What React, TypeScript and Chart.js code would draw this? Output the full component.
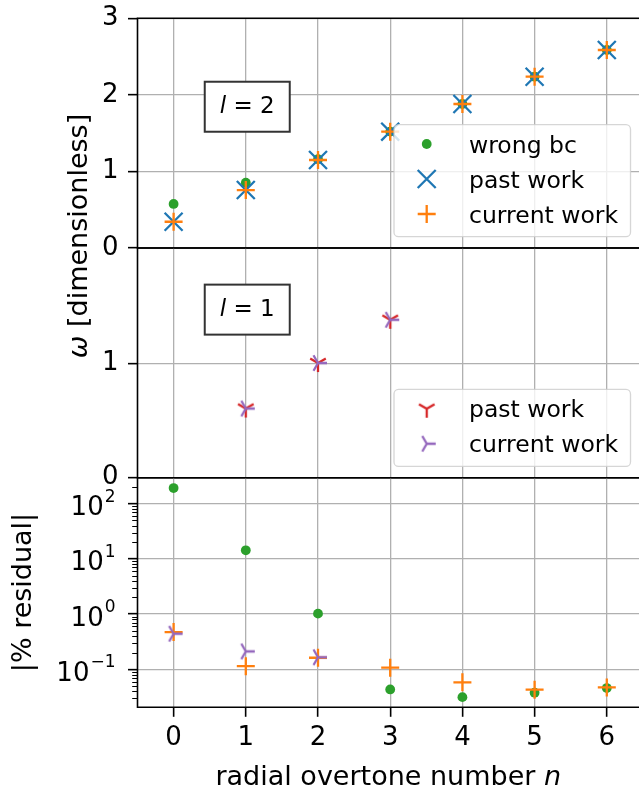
import React, { useEffect, useRef } from 'react';
import { Chart, registerables } from 'chart.js';

Chart.register(...registerables);

const FONT = "'DejaVu Sans', sans-serif";

// ---------- data ----------
const overtoneN = [0, 1, 2, 3, 4, 5, 6];
const l2WrongBc = [0.575, 0.853, 1.16, 1.52, 1.881, 2.237, 2.587];
const l2PastWork = [0.343, 0.757, 1.149, 1.519, 1.881, 2.237, 2.586];
const l2CurrentWork = [0.343, 0.757, 1.149, 1.519, 1.881, 2.237, 2.586];
const l1N = [1, 2, 3];
const l1PastWork = [0.605, 1.003, 1.381];
const l1CurrentWork = [0.605, 1.003, 1.381];
const residualWrongBc = [192, 14.3, 1.02, 0.0432, 0.0313, 0.0377, 0.0457];
const residualL2Current = [0.472, 0.114, 0.162, 0.107, 0.058, 0.0427, 0.047];
const residualL1N = [0, 1, 2];
const residualL1Current = [0.441, 0.211, 0.165];
const xTickValues = [0, 1, 2, 3, 4, 5, 6];
const omegaTopTicks = [0, 1, 2, 3];
const omegaMidTicks = [0, 1];
const residualMajorTicks = [0.1, 1, 10, 100];
const residualMinorFactors = [2, 3, 4, 5, 6, 7, 8, 9];
const residualDecades = [-2, -1, 0, 1, 2];

const COLORS = {
  blue: '#1f77b4',
  orange: '#ff7f0e',
  green: '#2ca02c',
  red: '#d62728',
  purple: '#9467bd',
};
const GRID = '#b0b0b0';

// ---------- layout (pixels) ----------
const W = 639;
const H = 787;
const PLOT_LEFT = 137.5;
const PANELS = [
  { top: 18.3, bottom: 248 },
  { top: 248, bottom: 477.7 },
  { top: 477.7, bottom: 707.3 },
];

function pts(xs: number[], ys: number[]) {
  return xs.map((x, i) => ({ x, y: ys[i] }));
}

function makeTri(color: string, angles: number[]) {
  const c = document.createElement('canvas');
  c.width = 24;
  c.height = 24;
  const g = c.getContext('2d')!;
  g.strokeStyle = color;
  g.lineWidth = 2.3;
  g.beginPath();
  angles.forEach((a) => {
    g.moveTo(12, 12);
    g.lineTo(12 + 9 * Math.cos(a), 12 + 9 * Math.sin(a));
  });
  g.stroke();
  return c;
}

type MarkerKind = 'circle' | 'cross' | 'crossRot' | HTMLCanvasElement;

function drawMarker(ctx: CanvasRenderingContext2D, kind: MarkerKind, color: string, x: number, y: number) {
  ctx.save();
  if (kind === 'circle') {
    ctx.fillStyle = color;
    ctx.beginPath();
    ctx.arc(x, y, 4.9, 0, Math.PI * 2);
    ctx.fill();
  } else if (kind === 'cross') {
    ctx.strokeStyle = color;
    ctx.lineWidth = 2.3;
    ctx.beginPath();
    ctx.moveTo(x - 9, y);
    ctx.lineTo(x + 9, y);
    ctx.moveTo(x, y - 9);
    ctx.lineTo(x, y + 9);
    ctx.stroke();
  } else if (kind === 'crossRot') {
    ctx.strokeStyle = color;
    ctx.lineWidth = 2.3;
    const d = 9;
    ctx.beginPath();
    ctx.moveTo(x - d, y - d);
    ctx.lineTo(x + d, y + d);
    ctx.moveTo(x - d, y + d);
    ctx.lineTo(x + d, y - d);
    ctx.stroke();
  } else {
    ctx.drawImage(kind, x - kind.width / 2, y - kind.height / 2);
  }
  ctx.restore();
}

function zeroPadding(s: any) {
  s.paddingTop = 0;
  s.paddingBottom = 0;
  s.paddingLeft = 0;
  s.paddingRight = 0;
}

function xScale(showTicks: boolean, boxHeight: number) {
  return {
    type: 'linear' as const,
    min: -0.5,
    max: 6.446,
    bounds: 'data' as const,
    afterBuildTicks: (s: any) => {
      s.ticks = xTickValues.map((v) => ({ value: v }));
    },
    afterFit: (s: any) => {
      s.height = boxHeight;
      zeroPadding(s);
    },
    grid: {
      color: GRID,
      lineWidth: 1.3,
      drawTicks: showTicks,
      tickLength: 9.5,
      tickColor: '#000',
      tickWidth: 1.6,
    },
    border: { display: false },
    ticks: {
      display: showTicks,
      color: '#000',
      font: { family: FONT, size: 26 },
      padding: 6,
      maxRotation: 0,
      autoSkip: false,
      callback: (v: any) => String(v),
    },
  };
}

function yLinear(min: number, max: number, tickValues: number[]) {
  return {
    type: 'linear' as const,
    min,
    max,
    bounds: 'data' as const,
    afterBuildTicks: (s: any) => {
      s.ticks = tickValues.map((v) => ({ value: v }));
    },
    afterFit: (s: any) => {
      s.width = PLOT_LEFT;
      zeroPadding(s);
    },
    grid: {
      color: GRID,
      lineWidth: 1.3,
      drawTicks: true,
      tickLength: 9.5,
      tickColor: '#000',
      tickWidth: 1.6,
    },
    border: { display: false },
    ticks: {
      color: '#000',
      font: { family: FONT, size: 26 },
      padding: 9.5,
      autoSkip: false,
      callback: (v: any) => String(v),
    },
  };
}

const framePlugin = {
  id: 'frame',
  afterDraw(chart: any) {
    const { ctx, chartArea: a } = chart;
    ctx.save();
    ctx.strokeStyle = '#000';
    ctx.lineWidth = 1.6;
    ctx.beginPath();
    ctx.moveTo(a.left, a.top);
    ctx.lineTo(a.right, a.top);
    ctx.moveTo(a.left, a.bottom);
    ctx.lineTo(a.right, a.bottom);
    ctx.moveTo(a.left, a.top - 0.8);
    ctx.lineTo(a.left, a.bottom + 0.8);
    ctx.stroke();
    ctx.restore();
  },
};

type LegendItem = { label: string; marker: MarkerKind; color: string };

function legendPlugin(items: LegendItem[]) {
  return {
    id: 'boxLegend',
    afterDraw(chart: any) {
      const { ctx, chartArea: a } = chart;
      const w = 236.5;
      const h = 19.3 + (items.length - 1) * 35 + 22.7;
      const right = a.right - 8.5;
      const bottom = a.bottom - 11.3;
      const left = right - w;
      const top = bottom - h;
      ctx.save();
      ctx.beginPath();
      ctx.roundRect(left, top, w, h, 4.5);
      ctx.fillStyle = 'rgba(255,255,255,0.8)';
      ctx.fill();
      ctx.strokeStyle = 'rgba(204,204,204,0.8)';
      ctx.lineWidth = 1.3;
      ctx.stroke();
      ctx.font = `23.5px ${FONT}`;
      ctx.fillStyle = '#000';
      ctx.textAlign = 'left';
      ctx.textBaseline = 'alphabetic';
      items.forEach((it, i) => {
        const cy = top + 19.3 + i * 35;
        drawMarker(ctx, it.marker, it.color, left + 32.7, cy);
        ctx.fillText(it.label, left + 75, cy + 8.5);
      });
      ctx.restore();
    },
  };
}

function annotationPlugin(value: string, xVal: number, yVal: number) {
  return {
    id: 'lbox',
    afterDraw(chart: any) {
      const { ctx } = chart;
      const cx = chart.scales.x.getPixelForValue(xVal);
      const cy = chart.scales.y.getPixelForValue(yVal);
      const bw = 85;
      const bh = 50;
      ctx.save();
      ctx.fillStyle = '#fff';
      ctx.fillRect(cx - bw / 2, cy - bh / 2, bw, bh);
      ctx.strokeStyle = '#333';
      ctx.lineWidth = 2;
      ctx.strokeRect(cx - bw / 2, cy - bh / 2, bw, bh);
      ctx.fillStyle = '#000';
      ctx.textBaseline = 'alphabetic';
      ctx.textAlign = 'left';
      ctx.font = `italic 23px ${FONT}`;
      const lw = ctx.measureText('l').width;
      ctx.font = `23px ${FONT}`;
      const rest = ' = ' + value;
      const rw = ctx.measureText(rest).width;
      const x0 = cx - (lw + rw) / 2;
      const base = cy - bh / 2 + 31.6;
      ctx.font = `italic 23px ${FONT}`;
      ctx.fillText('l', x0, base);
      ctx.font = `23px ${FONT}`;
      ctx.fillText(rest, x0 + lw, base);
      ctx.restore();
    },
  };
}

const omegaTitlePlugin = {
  id: 'omegaTitle',
  afterDraw(chart: any) {
    const { ctx } = chart;
    ctx.save();
    ctx.translate(86.5, 236);
    ctx.rotate(-Math.PI / 2);
    ctx.fillStyle = '#000';
    ctx.textBaseline = 'alphabetic';
    ctx.textAlign = 'left';
    ctx.font = `italic 27px ${FONT}`;
    const ow = ctx.measureText('ω').width;
    ctx.font = `27px ${FONT}`;
    const rest = ' [dimensionless]';
    const rw = ctx.measureText(rest).width;
    const x0 = -(ow + rw) / 2;
    ctx.font = `italic 27px ${FONT}`;
    ctx.fillText('ω', x0, 0);
    ctx.font = `27px ${FONT}`;
    ctx.fillText(rest, x0 + ow, 0);
    ctx.restore();
  },
};

const residualDecorPlugin = {
  id: 'residualDecor',
  afterDraw(chart: any) {
    const { ctx, chartArea: a } = chart;
    const s = chart.scales.y;
    ctx.save();
    // minor ticks
    ctx.strokeStyle = '#000';
    ctx.lineWidth = 1.2;
    ctx.beginPath();
    residualDecades.forEach((e) => {
      residualMinorFactors.forEach((k) => {
        const v = k * Math.pow(10, e);
        if (v < s.min || v > s.max) return;
        const py = Math.round(s.getPixelForValue(v)) + 0.5;
        ctx.moveTo(a.left - 5.3, py);
        ctx.lineTo(a.left, py);
      });
    });
    ctx.stroke();
    // major labels 10^k
    ctx.fillStyle = '#000';
    ctx.textBaseline = 'alphabetic';
    ctx.textAlign = 'left';
    const right = a.left - 22;
    residualMajorTicks.forEach((v) => {
      const py = s.getPixelForValue(v);
      const e = Math.round(Math.log10(v));
      const expStr = e < 0 ? '\u2212' + String(-e) : String(e);
      ctx.font = `17px ${FONT}`;
      const ew = ctx.measureText(expStr).width;
      ctx.font = `26px ${FONT}`;
      const bw = ctx.measureText('10').width;
      ctx.fillText('10', right - ew - bw - 1, py + 11.5);
      ctx.font = `17px ${FONT}`;
      ctx.fillText(expStr, right - ew, py + 11.5 - 13.4);
    });
    // axis titles
    ctx.font = `27px ${FONT}`;
    ctx.save();
    ctx.translate(30.5, (a.top + a.bottom) / 2);
    ctx.rotate(-Math.PI / 2);
    ctx.textAlign = 'center';
    ctx.fillText('|% residual|', 0, 0);
    ctx.restore();
    const pre = 'radial overtone number ';
    const preW = ctx.measureText(pre).width;
    ctx.font = `italic 27px ${FONT}`;
    const nW = ctx.measureText('n').width;
    const cx = (a.left + a.right) / 2;
    const x0 = cx - (preW + nW) / 2;
    ctx.font = `27px ${FONT}`;
    ctx.fillText(pre, x0, 785);
    ctx.font = `italic 27px ${FONT}`;
    ctx.fillText('n', x0 + preW, 785);
    ctx.restore();
  },
};

function padFor(p: { top: number; bottom: number }, xBox: number) {
  return { left: 0, right: 0, top: p.top, bottom: H - p.bottom - xBox };
}

const commonOptions = {
  responsive: false,
  animation: false as const,
  devicePixelRatio: 1,
  events: [] as any[],
};

export default function App() {
  const ref1 = useRef<HTMLCanvasElement>(null);
  const ref2 = useRef<HTMLCanvasElement>(null);
  const ref3 = useRef<HTMLCanvasElement>(null);

  useEffect(() => {
    Chart.defaults.font.family = FONT;
    const triDown = makeTri(COLORS.red, [Math.PI / 2, (7 * Math.PI) / 6, (11 * Math.PI) / 6]);
    const triPurple = makeTri(COLORS.purple, [0, (2 * Math.PI) / 3, (4 * Math.PI) / 3]);
    const bottomBox = H - PANELS[2].bottom;

    const c1 = new Chart(ref1.current!, {
      type: 'scatter',
      data: {
        datasets: [
          {
            label: 'wrong bc',
            data: pts(overtoneN, l2WrongBc),
            pointStyle: 'circle',
            pointRadius: 4.9,
            backgroundColor: COLORS.green,
            borderWidth: 0,
            order: 3,
          },
          {
            label: 'past work',
            data: pts(overtoneN, l2PastWork),
            pointStyle: 'crossRot',
            pointRadius: 12.7,
            borderColor: COLORS.blue,
            borderWidth: 2.3,
            order: 2,
          },
          {
            label: 'current work',
            data: pts(overtoneN, l2CurrentWork),
            pointStyle: 'cross',
            pointRadius: 9,
            borderColor: COLORS.orange,
            borderWidth: 2.3,
            order: 1,
          },
        ],
      },
      options: {
        ...commonOptions,
        layout: { padding: padFor(PANELS[0], 0), autoPadding: false },
        scales: { x: xScale(false, 0), y: yLinear(0, 3, omegaTopTicks) },
        plugins: { legend: { display: false }, tooltip: { enabled: false } },
      } as any,
      plugins: [
        framePlugin,
        annotationPlugin('2', 1.02, 1.845),
        omegaTitlePlugin,
        legendPlugin([
          { label: 'wrong bc', marker: 'circle', color: COLORS.green },
          { label: 'past work', marker: 'crossRot', color: COLORS.blue },
          { label: 'current work', marker: 'cross', color: COLORS.orange },
        ]),
      ],
    });

    const c2 = new Chart(ref2.current!, {
      type: 'scatter',
      data: {
        datasets: [
          {
            label: 'past work',
            data: pts(l1N, l1PastWork),
            pointStyle: triDown as any,
            pointRadius: 9,
            order: 2,
          },
          {
            label: 'current work',
            data: pts(l1N, l1CurrentWork),
            pointStyle: triPurple as any,
            pointRadius: 9,
            order: 1,
          },
        ],
      },
      options: {
        ...commonOptions,
        layout: { padding: padFor(PANELS[1], 0), autoPadding: false },
        scales: { x: xScale(false, 0), y: yLinear(0, 2.009, omegaMidTicks) },
        plugins: { legend: { display: false }, tooltip: { enabled: false } },
      } as any,
      plugins: [
        framePlugin,
        annotationPlugin('1', 1.02, 1.47),
        legendPlugin([
          { label: 'past work', marker: triDown, color: COLORS.red },
          { label: 'current work', marker: triPurple, color: COLORS.purple },
        ]),
      ],
    });

    const c3 = new Chart(ref3.current!, {
      type: 'scatter',
      data: {
        datasets: [
          {
            label: 'wrong bc',
            data: pts(overtoneN, residualWrongBc),
            pointStyle: 'circle',
            pointRadius: 4.9,
            backgroundColor: COLORS.green,
            borderWidth: 0,
            order: 3,
          },
          {
            label: 'current work l=2',
            data: pts(overtoneN, residualL2Current),
            pointStyle: 'cross',
            pointRadius: 9,
            borderColor: COLORS.orange,
            borderWidth: 2.3,
            order: 2,
          },
          {
            label: 'current work l=1',
            data: pts(residualL1N, residualL1Current),
            pointStyle: triPurple as any,
            pointRadius: 9,
            order: 1,
          },
        ],
      },
      options: {
        ...commonOptions,
        layout: { padding: padFor(PANELS[2], bottomBox), autoPadding: false },
        scales: {
          x: xScale(true, bottomBox),
          y: {
            type: 'logarithmic',
            min: 0.0205,
            max: 296,
            bounds: 'data',
            afterBuildTicks: (s: any) => {
              s.ticks = residualMajorTicks.map((v) => ({ value: v }));
            },
            afterFit: (s: any) => {
              s.width = PLOT_LEFT;
              zeroPadding(s);
            },
            grid: {
              color: GRID,
              lineWidth: 1.3,
              drawTicks: true,
              tickLength: 9.5,
              tickColor: '#000',
              tickWidth: 1.6,
            },
            border: { display: false },
            ticks: { display: false },
          },
        },
        plugins: { legend: { display: false }, tooltip: { enabled: false } },
      } as any,
      plugins: [framePlugin, residualDecorPlugin],
    });

    return () => {
      c1.destroy();
      c2.destroy();
      c3.destroy();
    };
  }, []);

  const cstyle: React.CSSProperties = { position: 'absolute', left: 0, top: 0, width: W, height: H };
  return (
    <div style={{ position: 'fixed', left: 0, top: 0, width: W, height: H, background: '#fff', overflow: 'hidden' }}>
      <canvas ref={ref1} width={W} height={H} style={cstyle} />
      <canvas ref={ref2} width={W} height={H} style={cstyle} />
      <canvas ref={ref3} width={W} height={H} style={cstyle} />
    </div>
  );
}
